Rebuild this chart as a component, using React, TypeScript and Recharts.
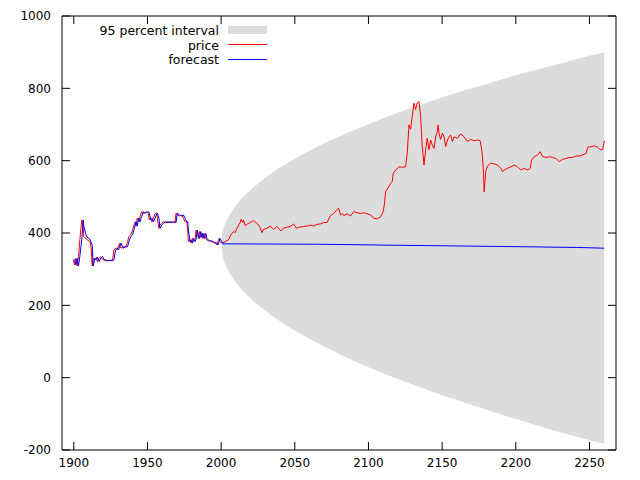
import React from "react";
import { ComposedChart, Line, Area, XAxis, YAxis } from "recharts";

const xTicks = [1900, 1950, 2000, 2050, 2100, 2150, 2200, 2250];
const yTicks = [-200, 0, 200, 400, 600, 800, 1000];

const priceSeries: [number, number][] = [
  [1899.6,327],[1900.5,312],[1901.4,330],[1902.3,309],[1903.2,335],[1904.1,381],[1905.4,436],[1906.4,418],[1906.8,390],[1908.6,383],[1910.9,376],[1911.6,367],[1912.5,309],[1913.2,330],[1914.3,325],[1915.4,333],[1916.1,321],[1917.2,330],[1918.2,335],[1919.5,327],[1920.6,325],[1921.8,323],[1923.4,325],[1925.6,323],[1926.3,325],[1927.2,353],[1928.4,358],[1929.5,353],[1930.4,366],[1931.3,372],[1932,358],[1933.6,362],[1935.4,362],[1936.5,376],[1937.4,390],[1938.6,395],[1939.9,408],[1940.8,422],[1941.7,431],[1942.2,419],[1943.1,441],[1944,431],[1944.9,445],[1946,459],[1947.2,455],[1948.3,456],[1949.4,459],[1950.6,455],[1951.3,436],[1952.2,441],[1953.1,431],[1954,441],[1955.1,453],[1956.3,455],[1956.7,441],[1957.8,413],[1958.5,422],[1959.7,427],[1960.8,431],[1962.6,429],[1964.2,431],[1966,429],[1967.6,431],[1968.7,429],[1969.4,455],[1970.3,450],[1971.7,447],[1973.3,450],[1974.4,441],[1975.5,431],[1976.7,431],[1977.3,408],[1977.8,376],[1978.9,381],[1979.6,372],[1980.5,385],[1981.2,376],[1982.3,383],[1983,408],[1983.9,395],[1984.6,385],[1985.3,404],[1986.2,388],[1986.9,399],[1987.5,385],[1988.5,399],[1989.6,385],[1990.3,381],[1991.4,378],[1992.5,378],[1993.7,376],[1994.8,373],[1995.9,372],[1997.1,367],[1997.8,376],[1998.7,385],[1999.3,376],[2000.5,372],
  [2002.7,376],[2005,381],[2006.6,395],[2008.4,404],[2009.5,401],[2010.7,413],[2012.9,429],[2013.6,438],[2014.5,429],[2015.2,436],[2016.3,420],[2017.9,425],[2019.7,429],[2022,434],[2024.3,427],[2026.1,418],[2027.7,401],[2028.8,410],[2031.1,413],[2033.3,419],[2035.6,410],[2037.9,418],[2040.6,406],[2042.4,413],[2044.7,416],[2046.9,418],[2049.2,425],[2051,413],[2052.6,416],[2056,418],[2058.3,419],[2060.6,422],[2062.8,419],[2065.1,424],[2067.4,425],[2069.6,429],[2071.9,429],[2074.2,448],[2076.4,454],[2078.7,465],[2079.8,468],[2081,450],[2082.1,454],[2083.2,448],[2085.5,453],[2087.8,447],[2090,459],[2092.3,456],[2094.6,454],[2096.8,456],[2099.1,453],[2101.4,450],[2103.6,441],[2105.9,439],[2108.2,445],[2110,459],[2110.9,482],[2111.6,514],[2112.7,521],[2115,537],[2116.1,542],[2116.8,565],[2118.4,574],[2120.7,583],[2123,582],[2125.2,583],[2126.3,620],[2127.5,699],[2128.6,687],[2129.7,722],[2130.9,759],[2132,742],[2133.1,760],[2134.3,763],[2135.4,722],[2136.5,639],[2137.7,588],[2138.8,630],[2139.9,662],[2141.1,630],[2142.2,657],[2143.3,643],[2144.5,634],[2145.6,666],[2146.7,680],[2147.2,699],[2148.1,671],[2149,659],[2150.2,676],[2151.3,666],[2152.4,639],[2153.6,657],[2154.7,666],[2155.8,671],[2157,653],[2158.1,666],[2160.4,662],[2162.6,674],[2164.9,666],[2167.2,653],[2169.4,659],[2171.7,655],[2174,657],[2175.8,655],[2176.7,634],[2177.4,611],[2178.1,565],[2178.5,514],[2179.6,570],[2180.7,585],[2183,593],[2185.3,591],[2187.6,588],[2189.8,579],[2191,570],[2192.1,574],[2194.4,579],[2196.6,583],[2198.9,588],[2201.2,583],[2203.4,574],[2205.7,579],[2208,574],[2209.8,579],[2210.7,602],[2212.5,611],[2214.8,616],[2216.6,625],[2218.2,611],[2220.5,609],[2222.7,611],[2225,609],[2227.3,606],[2229.5,597],[2231.8,604],[2234.1,606],[2236.3,609],[2238.6,609],[2240.9,613],[2243.1,613],[2245.4,616],[2247.7,620],[2248.8,637],[2251.1,639],[2253.3,641],[2255.6,637],[2257.4,630],[2259,631],[2260.1,655]
];

const forecastSeries: [number, number][] = [
  [1900.5,327],[1901.4,312],[1902.3,330],[1903.2,309],[1904.1,335],[1905.4,381],[1906.4,436],[1906.8,418],[1908.6,390],[1910.9,383],[1911.6,376],[1912.5,367],[1913.2,309],[1914.3,330],[1915.4,325],[1916.1,333],[1917.2,321],[1918.2,330],[1919.5,335],[1920.6,327],[1921.8,325],[1923.4,323],[1925.6,325],[1926.3,323],[1927.2,325],[1928.4,353],[1929.5,358],[1930.4,353],[1931.3,366],[1932,372],[1933.6,358],[1935.4,362],[1936.5,362],[1937.4,376],[1938.6,390],[1939.9,395],[1940.8,408],[1941.7,422],[1942.2,431],[1943.1,419],[1944,441],[1944.9,431],[1946,445],[1947.2,459],[1948.3,455],[1949.4,456],[1950.6,459],[1951.3,455],[1952.2,436],[1953.1,441],[1954,431],[1955.1,441],[1956.3,453],[1956.7,455],[1957.8,441],[1958.5,413],[1959.7,422],[1960.8,427],[1962.6,431],[1964.2,429],[1966,431],[1967.6,429],[1968.7,431],[1969.4,429],[1970.3,455],[1971.7,450],[1973.3,447],[1974.4,450],[1975.5,441],[1976.7,431],[1977.3,431],[1977.8,408],[1978.9,376],[1979.6,381],[1980.5,372],[1981.2,385],[1982.3,376],[1983,383],[1983.9,408],[1984.6,395],[1985.3,385],[1986.2,404],[1986.9,388],[1987.5,399],[1988.5,385],[1989.6,399],[1990.3,385],[1991.4,381],[1992.5,378],[1993.7,378],[1994.8,376],[1995.9,373],[1997.1,372],[1997.8,367],[1998.7,376],[1999.3,385],[2000.5,376],
  [2001,370],[2064,369],[2122,366],[2185,363],[2242,360],[2260,358]
];

const bandSeries: [number, number, number][] = [
  [2000.6,352,388],[2001,336,404],[2002,322,417],[2004,303,437],[2007,281,459],[2010,263,476],[2015,239,500],[2020,219,519],[2030,185,553],[2040,156,581],[2055,118,617],[2070,86,648],[2085,56,676],[2100,29,701],[2120,-4,733],[2140,-34,761],[2160,-62,788],[2180,-89,812],[2200,-114,836],[2220,-139,858],[2240,-162,880],[2260,-183,899]
];

const priceData = priceSeries.map(([x, v]) => ({ x, v }));
const forecastData = forecastSeries.map(([x, v]) => ({ x, v }));
const bandData = bandSeries.map(([x, lo, hi]) => ({ x, range: [lo, hi] }));

const FONT = "'DejaVu Sans', sans-serif";
const tickStyle = { fontFamily: FONT, fontSize: 12, fill: "#000" };
const xDomain: [number, number] = [1892, 2268];
const yDomain: [number, number] = [-200, 1000];

export default function App() {
  return (
    <div style={{ position: "absolute", left: 0, top: 0, width: 640, height: 480, background: "#fff" }}>
      <ComposedChart width={640} height={480} margin={{ top: 0, right: 0, bottom: 0, left: 0 }}>
        <XAxis xAxisId="b" dataKey="x" type="number" domain={xDomain} ticks={xTicks} orientation="bottom"
          height={30} tickSize={-8} tickMargin={16} tick={tickStyle} allowDataOverflow
          axisLine={{ stroke: "#000" }} tickLine={{ stroke: "#000" }} />
        <XAxis xAxisId="t" dataKey="x" type="number" domain={xDomain} ticks={xTicks} orientation="top"
          height={16} tickSize={-8} tickFormatter={() => ""} allowDataOverflow
          axisLine={{ stroke: "#000" }} tickLine={{ stroke: "#000" }} />
        <YAxis yAxisId="l" type="number" domain={yDomain} ticks={yTicks} orientation="left"
          width={62} tickSize={-8} tickMargin={19} tick={tickStyle} allowDataOverflow
          axisLine={{ stroke: "#000" }} tickLine={{ stroke: "#000" }} />
        <YAxis yAxisId="r" type="number" domain={yDomain} ticks={yTicks} orientation="right"
          width={24} tickSize={-8} tickFormatter={() => ""} allowDataOverflow
          axisLine={{ stroke: "#000" }} tickLine={{ stroke: "#000" }} />
        <Area xAxisId="b" yAxisId="l" data={bandData} dataKey="range" type="monotone"
          stroke="none" fill="#dcdcdc" fillOpacity={1} isAnimationActive={false} />
        <Line xAxisId="b" yAxisId="l" data={priceData} dataKey="v" type="linear" stroke="#ff0000"
          strokeWidth={1} dot={false} isAnimationActive={false} />
        <Line xAxisId="b" yAxisId="l" data={forecastData} dataKey="v" type="linear" stroke="#0000ff"
          strokeWidth={1} dot={false} isAnimationActive={false} />
        <Line xAxisId="t" yAxisId="r" data={forecastData} dataKey="v" type="linear" stroke="none"
          dot={false} isAnimationActive={false} legendType="none" />
      </ComposedChart>
      <svg width={640} height={480} style={{ position: "absolute", left: 0, top: 0, pointerEvents: "none" }}>
        <text x={219} y={35} textAnchor="end" fontFamily={FONT} fontSize={12.5} fill="#000">95 percent interval</text>
        <rect x={228} y={26} width={39} height={8} fill="#dcdcdc" />
        <text x={219} y={49.5} textAnchor="end" fontFamily={FONT} fontSize={12.5} fill="#000">price</text>
        <line x1={228} x2={267} y1={44.5} y2={44.5} stroke="#ff0000" strokeWidth={1} />
        <text x={219} y={64} textAnchor="end" fontFamily={FONT} fontSize={12.5} fill="#000">forecast</text>
        <line x1={228} x2={267} y1={59.5} y2={59.5} stroke="#0000ff" strokeWidth={1} />
      </svg>
    </div>
  );
}
